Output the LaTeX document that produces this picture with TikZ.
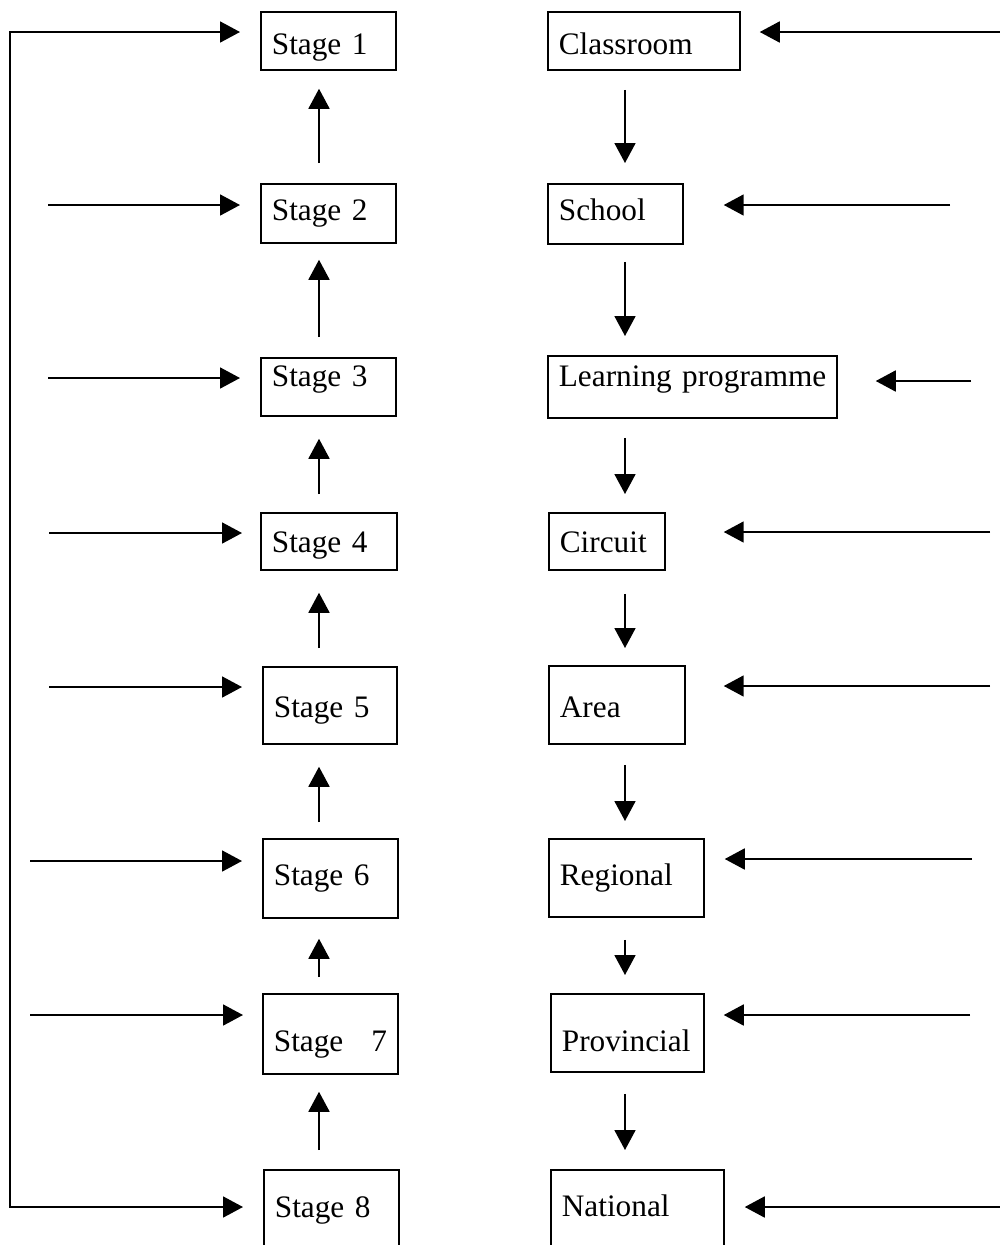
\documentclass[tikz,border=0pt]{standalone}
\usepackage{fontspec}
\setmainfont{Liberation Serif}
\usetikzlibrary{arrows.meta}

% one framed box: name, left, top, right, bottom, baseline (all in px), text
\newcommand\flowbox[7]{%
  \pgfmathsetmacro\fbw{(#4-#2-22)*0.02}%
  \pgfmathsetmacro\fbh{(#6-#3)*0.02}%
  \pgfmathsetmacro\fbd{(#5-#6)*0.02}%
  \node[flowbox, text width=\fbw cm, text height=\fbh cm, text depth=\fbd cm] (#1) at (#2,#3) {\mbox{#7}};%
}

\begin{document}
\begin{tikzpicture}[x=0.02cm, y=-0.02cm,
  flowbox/.style={draw, line width=1pt, anchor=north west, align=left,
    inner xsep=0.22cm, inner ysep=0pt,
    font=\fontsize{17.8}{21}\selectfont},
  arr/.style={line width=1pt, -{Triangle[length=0.4cm, width=0.42cm]}},
  loop/.style={line width=1pt, {Triangle[length=0.4cm, width=0.42cm]}-{Triangle[length=0.4cm, width=0.42cm]}}]

\useasboundingbox (0,0) rectangle (1000,1245);
\clip (0,0) rectangle (1000,1245);

% stages column
\flowbox{s1}{260}{11}{395}{69}{54}{Stage 1}
\flowbox{s2}{260}{183}{395}{242}{220}{Stage 2}
\flowbox{s3}{260}{357}{395}{415}{386}{Stage 3}
\flowbox{s4}{260}{512}{396}{569}{552}{Stage 4}
\flowbox{s5}{262}{666}{396}{743}{717}{Stage 5}
\flowbox{s6}{262}{838}{397}{917}{885}{Stage 6}
\flowbox{s7}{262}{993}{397}{1073}{1051}{Stage\hspace{0.9em}7}
\flowbox{s8}{263}{1169}{398}{1265}{1217}{Stage 8}

% levels column
\flowbox{r1}{547}{11}{739}{69}{54}{Classroom}
\flowbox{r2}{547}{183}{682}{243}{220}{School}
\flowbox{r3}{547}{355}{836}{417}{386}{Learning programme}
\flowbox{r4}{548}{512}{664}{569}{552}{Circuit}
\flowbox{r5}{548}{665}{684}{743}{717}{Area}
\flowbox{r6}{548}{838}{703}{916}{885}{Regional}
\flowbox{r7}{550}{993}{703}{1071}{1051}{Provincial}
\flowbox{r8}{550}{1169}{723}{1265}{1216}{National}

% axes of the vertical connectors
\coordinate (lx) at (319,0);
\coordinate (rx) at (625,0);

% upward chain, stage 8 to stage 1
\draw[arr, shorten <=0.40cm, shorten >=0.36cm] (s2.north -| lx) -- (s1.south -| lx);
\draw[arr, shorten <=0.40cm, shorten >=0.32cm] (s3.north -| lx) -- (s2.south -| lx);
\draw[arr, shorten <=0.36cm, shorten >=0.44cm] (s4.north -| lx) -- (s3.south -| lx);
\draw[arr, shorten <=0.36cm, shorten >=0.44cm] (s5.north -| lx) -- (s4.south -| lx);
\draw[arr, shorten <=0.32cm, shorten >=0.44cm] (s6.north -| lx) -- (s5.south -| lx);
\draw[arr, shorten <=0.32cm, shorten >=0.40cm] (s7.north -| lx) -- (s6.south -| lx);
\draw[arr, shorten <=0.38cm, shorten >=0.34cm] (s8.north -| lx) -- (s7.south -| lx);

% downward chain, classroom to national
\draw[arr, shorten <=0.38cm, shorten >=0.40cm] (r1.south -| rx) -- (r2.north -| rx);
\draw[arr, shorten <=0.34cm, shorten >=0.38cm] (r2.south -| rx) -- (r3.north -| rx);
\draw[arr, shorten <=0.38cm, shorten >=0.36cm] (r3.south -| rx) -- (r4.north -| rx);
\draw[arr, shorten <=0.46cm, shorten >=0.34cm] (r4.south -| rx) -- (r5.north -| rx);
\draw[arr, shorten <=0.40cm, shorten >=0.34cm] (r5.south -| rx) -- (r6.north -| rx);
\draw[arr, shorten <=0.44cm, shorten >=0.36cm] (r6.south -| rx) -- (r7.north -| rx);
\draw[arr, shorten <=0.42cm, shorten >=0.38cm] (r7.south -| rx) -- (r8.north -| rx);

% feedback loop from the left edge into stage 1 and stage 8
\coordinate (ltop) at (10,32);
\coordinate (lbot) at (10,1207);
\draw[loop, shorten <=0.40cm, shorten >=0.40cm]
  (ltop -| s1.west) -- (ltop) -- (lbot) -- (lbot -| s8.west);

% inputs entering the stages from the left
\coordinate (a2) at (48,205);
\coordinate (a3) at (48,378);
\coordinate (a4) at (49,533);
\coordinate (a5) at (49,687);
\coordinate (a6) at (30,861);
\coordinate (a7) at (30,1015);
\draw[arr, shorten >=0.40cm] (a2) -- (a2 -| s2.west);
\draw[arr, shorten >=0.40cm] (a3) -- (a3 -| s3.west);
\draw[arr, shorten >=0.36cm] (a4) -- (a4 -| s4.west);
\draw[arr, shorten >=0.40cm] (a5) -- (a5 -| s5.west);
\draw[arr, shorten >=0.40cm] (a6) -- (a6 -| s6.west);
\draw[arr, shorten >=0.38cm] (a7) -- (a7 -| s7.west);

% inputs entering the levels from the right
\coordinate (b1) at (1000,32);
\coordinate (b2) at (950,205);
\coordinate (b3) at (971,381);
\coordinate (b4) at (990,532);
\coordinate (b5) at (990,686);
\coordinate (b6) at (972,859);
\coordinate (b7) at (970,1015);
\coordinate (b8) at (1000,1207);
\draw[arr, shorten >=0.38cm] (b1) -- (b1 -| r1.east);
\draw[arr, shorten >=0.80cm] (b2) -- (b2 -| r2.east);
\draw[arr, shorten >=0.76cm] (b3) -- (b3 -| r3.east);
\draw[arr, shorten >=1.16cm] (b4) -- (b4 -| r4.east);
\draw[arr, shorten >=0.76cm] (b5) -- (b5 -| r5.east);
\draw[arr, shorten >=0.40cm] (b6) -- (b6 -| r6.east);
\draw[arr, shorten >=0.38cm] (b7) -- (b7 -| r7.east);
\draw[arr, shorten >=0.40cm] (b8) -- (b8 -| r8.east);

\end{tikzpicture}
\end{document}
